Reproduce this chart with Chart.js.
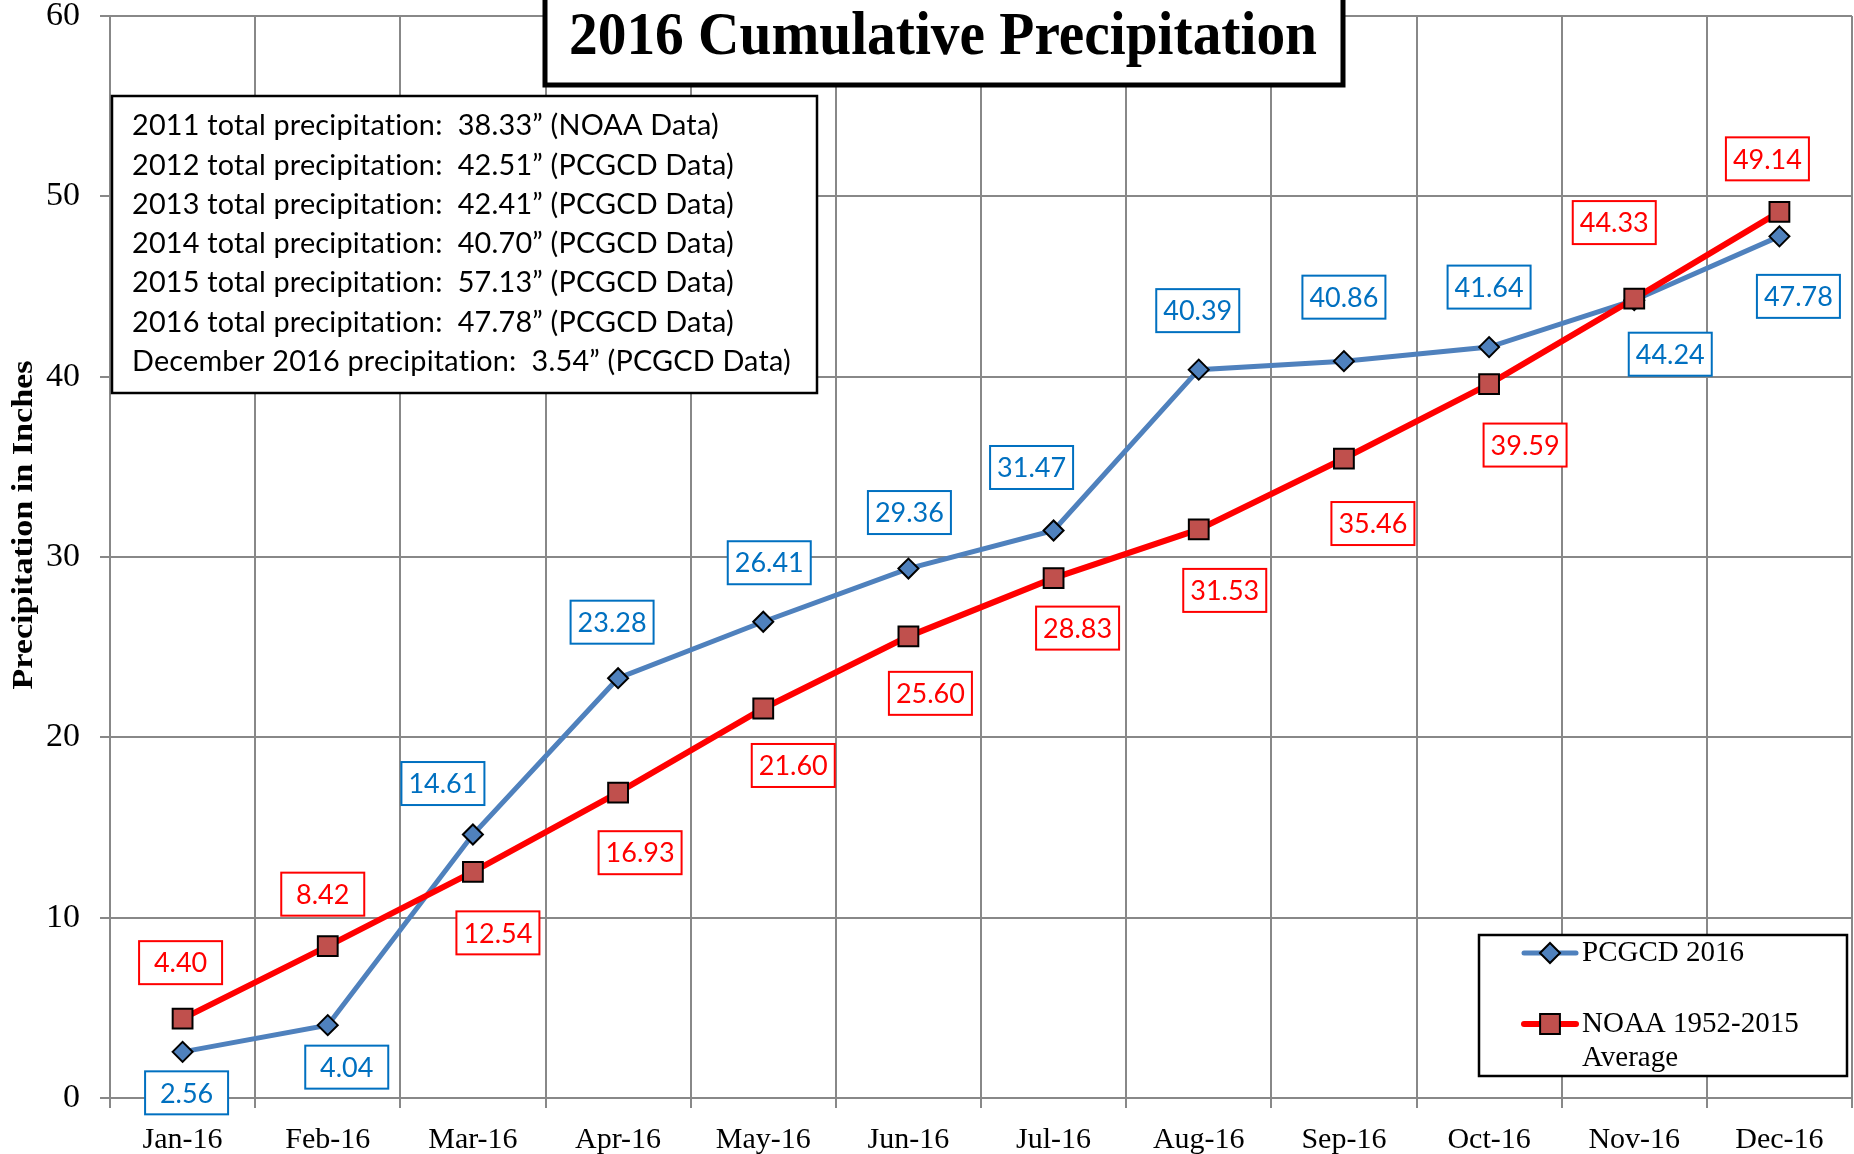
<!DOCTYPE html>
<html>
<head>
<meta charset="utf-8">
<title>2016 Cumulative Precipitation</title>
<script src="https://cdn.jsdelivr.net/npm/chart.js@4.4.1/dist/chart.umd.min.js"></script>
<style>
  html, body { margin: 0; padding: 0; background: #ffffff; }
  #wrap { width: 1854px; height: 1154px; }
</style>
</head>
<body>
<div id="wrap"><canvas id="chart" width="1854" height="1154"></canvas></div>
<script>
/* ---------- data ---------- */
const months = ['Jan-16', 'Feb-16', 'Mar-16', 'Apr-16', 'May-16', 'Jun-16',
                'Jul-16', 'Aug-16', 'Sep-16', 'Oct-16', 'Nov-16', 'Dec-16'];
const pcgcd2016 = [2.56, 4.04, 14.61, 23.28, 26.41, 29.36, 31.47, 40.39, 40.86, 41.64, 44.24, 47.78];
const noaaAverage = [4.40, 8.42, 12.54, 16.93, 21.60, 25.60, 28.83, 31.53, 35.46, 39.59, 44.33, 49.14];
const yTicks = [0, 10, 20, 30, 40, 50, 60];
const seriesNames = ['PCGCD 2016', 'NOAA 1952-2015 Average'];
const chartTitle = '2016 Cumulative Precipitation';
const yAxisTitle = 'Precipitation in Inches';
const noteLines = [
  '2011 total precipitation:  38.33\u201D (NOAA Data)',
  '2012 total precipitation:  42.51\u201D (PCGCD Data)',
  '2013 total precipitation:  42.41\u201D (PCGCD Data)',
  '2014 total precipitation:  40.70\u201D (PCGCD Data)',
  '2015 total precipitation:  57.13\u201D (PCGCD Data)',
  '2016 total precipitation:  47.78\u201D (PCGCD Data)',
  'December 2016 precipitation:  3.54\u201D (PCGCD Data)',
];

/* ---------- layout / style (not data) ---------- */
// where each value box sits, as a pixel offset from its point
const pcgcdLabelOffsets = [[4, 41], [19, 42], [-30, -51], [-6, -56], [6, -59], [1, -56],
                           [-22, -63], [-1, -59], [0, -64], [0, -60], [36, 54], [19, 60]];
const noaaLabelOffsets = [[-2, -56], [-5, -52], [25, 61], [22, 60], [30, 57], [22, 57],
                          [24, 50], [26, 61], [29, 65], [36, 61], [-20, -76], [-12, -53]];

const SERIF = '"Liberation Serif", "DejaVu Serif", serif';
const SANS = 'Lato, "Open Sans", sans-serif';
const COL = {
  grid: '#888888',
  blueLine: '#4F81BD',
  blueText: '#0070C0',
  redLine: '#FF0000',
  redFill: '#C0504D',
  ink: '#000000',
};

/* ---------- drawing helpers ---------- */
function drawValueLabels(chart, dsIndex, offsets, color) {
  const { ctx } = chart;
  const meta = chart.getDatasetMeta(dsIndex);
  const data = chart.data.datasets[dsIndex].data;
  const w = 83, h = 43;
  ctx.save();
  ctx.font = `27px ${SANS}`;
  ctx.textAlign = 'center';
  ctx.textBaseline = 'middle';
  meta.data.forEach((pt, i) => {
    const cx = pt.x + offsets[i][0];
    const cy = pt.y + offsets[i][1];
    ctx.fillStyle = '#ffffff';
    ctx.fillRect(cx - w / 2, cy - h / 2, w, h);
    ctx.strokeStyle = color;
    ctx.lineWidth = 2;
    ctx.strokeRect(cx - w / 2, cy - h / 2, w, h);
    ctx.fillStyle = color;
    ctx.fillText(data[i].toFixed(2), cx, cy + 1);
  });
  ctx.restore();
}

function drawNotes(ctx) {
  const x0 = 112, y0 = 96, x1 = 817, y1 = 393;
  ctx.save();
  ctx.fillStyle = '#ffffff';
  ctx.fillRect(x0, y0, x1 - x0, y1 - y0);
  ctx.strokeStyle = COL.ink;
  ctx.lineWidth = 2.5;
  ctx.strokeRect(x0, y0, x1 - x0, y1 - y0);
  // no "ti" ligature (Lato has one, the original font does not)
  if ('letterSpacing' in ctx) ctx.letterSpacing = '0.2px';
  // fit the longest line to the width seen in the original
  ctx.font = `100px ${SANS}`;
  const longest = Math.max(...noteLines.map((s) => ctx.measureText(s).width));
  const size = 100 * 652 / longest;
  ctx.font = `${size.toFixed(1)}px ${SANS}`;
  ctx.fillStyle = COL.ink;
  ctx.textAlign = 'left';
  ctx.textBaseline = 'middle';
  noteLines.forEach((s, i) => ctx.fillText(s, 132, 126 + i * 39.3));
  ctx.restore();
}

function drawTitle(ctx) {
  ctx.save();
  ctx.fillStyle = '#ffffff';
  ctx.fillRect(545, -10, 798, 95);
  ctx.strokeStyle = COL.ink;
  ctx.lineWidth = 5;
  ctx.strokeRect(545, -10, 798, 95);
  ctx.font = `bold 62px ${SERIF}`;
  const tw = ctx.measureText(chartTitle).width;
  ctx.translate(943, 54);
  ctx.scale(748 / tw, 1);
  ctx.fillStyle = COL.ink;
  ctx.textAlign = 'center';
  ctx.textBaseline = 'alphabetic';
  ctx.fillText(chartTitle, 0, 0);
  ctx.restore();
}

function drawYTitle(ctx) {
  ctx.save();
  ctx.font = `bold 30px ${SERIF}`;
  const tw = ctx.measureText(yAxisTitle).width;
  ctx.translate(24, 525);
  ctx.rotate(-Math.PI / 2);
  ctx.scale(329 / tw, 1);
  ctx.fillStyle = COL.ink;
  ctx.textAlign = 'center';
  ctx.textBaseline = 'middle';
  ctx.fillText(yAxisTitle, 0, 0);
  ctx.restore();
}

function drawLegend(chart) {
  const { ctx } = chart;
  const x0 = 1479, y0 = 935, x1 = 1847, y1 = 1076;
  ctx.save();
  ctx.fillStyle = '#ffffff';
  ctx.fillRect(x0, y0, x1 - x0, y1 - y0);
  ctx.strokeStyle = COL.ink;
  ctx.lineWidth = 2.5;
  ctx.strokeRect(x0, y0, x1 - x0, y1 - y0);

  const rows = [
    { ds: chart.data.datasets[0], y: 953 },
    { ds: chart.data.datasets[1], y: 1024 },
  ];
  rows.forEach(({ ds, y }) => {
    ctx.strokeStyle = ds.borderColor;
    ctx.lineWidth = ds.borderWidth;
    ctx.lineCap = 'round';
    ctx.beginPath();
    ctx.moveTo(1524, y);
    ctx.lineTo(1576, y);
    ctx.stroke();
    ctx.fillStyle = ds.pointBackgroundColor;
    ctx.strokeStyle = ds.pointBorderColor;
    ctx.lineWidth = ds.pointBorderWidth;
    Chart.helpers.drawPoint(ctx, {
      pointStyle: ds.pointStyle, radius: ds.pointRadius,
      borderWidth: ds.pointBorderWidth, rotation: 0,
    }, 1550, y);
  });

  ctx.fillStyle = COL.ink;
  ctx.font = `29px ${SERIF}`;
  ctx.textAlign = 'left';
  ctx.textBaseline = 'middle';
  ctx.fillText(seriesNames[0], 1582, 953);
  ctx.fillText('NOAA 1952-2015', 1582, 1024);
  ctx.fillText('Average', 1582, 1058);
  ctx.restore();
}

const overlayPlugin = {
  id: 'overlay',
  afterDatasetsDraw(chart) {
    drawValueLabels(chart, 0, pcgcdLabelOffsets, COL.blueText);
    drawValueLabels(chart, 1, noaaLabelOffsets, COL.redLine);
  },
  afterDraw(chart) {
    const { ctx } = chart;
    drawNotes(ctx);
    drawTitle(ctx);
    drawYTitle(ctx);
    drawLegend(chart);
  },
};

// the plot box is set by layout.padding alone; drop the label overhang padding
function noOverhang(scale) {
  scale.paddingTop = 0;
  scale.paddingBottom = 0;
  scale.paddingLeft = 0;
  scale.paddingRight = 0;
}

/* ---------- chart ---------- */
new Chart(document.getElementById('chart'), {
  type: 'line',
  data: {
    labels: months,
    datasets: [
      {
        label: seriesNames[0],
        data: pcgcd2016,
        borderColor: COL.blueLine,
        borderWidth: 5,
        pointStyle: 'rectRot',
        pointRadius: 10,
        pointBackgroundColor: COL.blueLine,
        pointBorderColor: COL.ink,
        pointBorderWidth: 2,
        tension: 0,
        order: 1,
      },
      {
        label: seriesNames[1],
        data: noaaAverage,
        borderColor: COL.redLine,
        borderWidth: 6,
        pointStyle: 'rect',
        pointRadius: 14,
        pointBackgroundColor: COL.redFill,
        pointBorderColor: COL.ink,
        pointBorderWidth: 2,
        tension: 0,
        order: 0,
      },
    ],
  },
  options: {
    responsive: false,
    animation: false,
    devicePixelRatio: 1,
    // autoPadding would reserve room for the marker size at the plot edges
    layout: { autoPadding: false, padding: { top: 16, right: 2, left: 0, bottom: 0 } },
    plugins: {
      legend: { display: false },
      tooltip: { enabled: false },
    },
    scales: {
      x: {
        type: 'category',
        offset: true,
        grid: { offset: true, color: COL.grid, lineWidth: 2, tickLength: 10, tickColor: COL.grid },
        border: { color: COL.grid, width: 2 },
        ticks: { color: COL.ink, font: { family: SERIF, size: 30 }, padding: 14, maxRotation: 0, autoSkip: false },
        afterFit(scale) { scale.height = 56; noOverhang(scale); },
      },
      y: {
        min: 0,
        max: 60,
        afterBuildTicks(scale) { scale.ticks = yTicks.map((v) => ({ value: v })); },
        grid: { color: COL.grid, lineWidth: 2, tickLength: 10, tickColor: COL.grid },
        border: { color: COL.grid, width: 2 },
        ticks: { color: COL.ink, font: { family: SERIF, size: 34, lineHeight: 1 }, padding: 20 },
        afterFit(scale) { scale.width = 110; noOverhang(scale); },
      },
    },
  },
  plugins: [overlayPlugin],
});
</script>
</body>
</html>
